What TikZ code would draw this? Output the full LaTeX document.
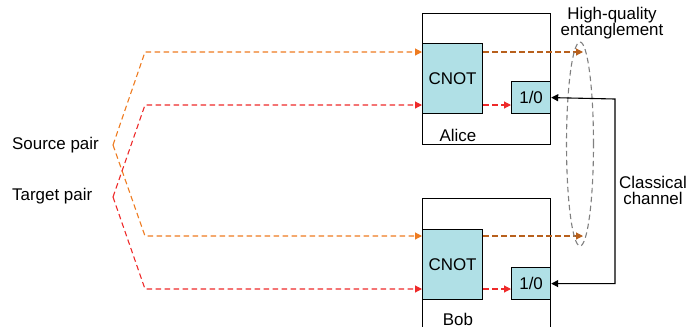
\documentclass[tikz,border=0pt]{standalone}
\usepackage{fontspec}
\setmainfont{Liberation Sans}
\usepackage{xcolor}
\usepackage{tikz}
\usetikzlibrary{arrows.meta,calc}

\definecolor{srcorange}{HTML}{EE7B20}
\definecolor{tgtred}{HTML}{EE2A2A}
\definecolor{outbrown}{HTML}{B8601C}
\definecolor{gatefill}{HTML}{B0E0E6}

\begin{document}
\begin{tikzpicture}[x=1bp,y=-1bp,
    every node/.style={font=\fontsize{17}{16}\selectfont},
    party/.style={draw,line width=1.2bp,anchor=north west,minimum width=128bp},
    gate/.style={draw,line width=1.2bp,fill=gatefill,anchor=north west,inner sep=0pt},
    pair/.style={dashed,dash pattern=on 5.5bp off 3.5bp,line width=1.1bp},
    tip/.style={-{Triangle[length=7bp,width=7bp]}}]
      \useasboundingbox (0,0) rectangle (699,326);
      % labs
      \node [party,minimum height=131bp] (alice) at (422,13) {};
      \node [party,minimum height=140bp] (bob) at (422,198) {};
      \node [gate,minimum width=60bp,minimum height=70bp] (aCnot) at (422,43) {CNOT};
      \node [gate,minimum width=39bp,minimum height=32bp] (aMeas) at (511,81) {1/0};
      \node [gate,minimum width=60bp,minimum height=70bp] (bCnot) at (422,229) {CNOT};
      \node [gate,minimum width=39bp,minimum height=32bp] (bMeas) at (511,267) {1/0};
      \node (aName) at (458,135) {Alice};
      \node (bName) at (458,319) {Bob};
      % pairs
      \node [anchor=west,inner sep=0pt] (srcLabel) at (12,145) {Source pair};
      \node [anchor=west,inner sep=0pt] (tgtLabel) at (12,196) {Target pair};
      \coordinate (srcPt) at (113,145);
      \coordinate (tgtPt) at (113,197);
      \coordinate (aUp) at (145,52);
      \coordinate (aLow) at (145,105);
      \coordinate (bUp) at (145,236);
      \coordinate (bLow) at (145,289);
      \draw [pair,srcorange,tip] (srcPt) -- (aUp) -- (aUp -| aCnot.west);
      \draw [pair,srcorange,tip] (srcPt) -- (bUp) -- (bUp -| bCnot.west);
      \draw [pair,tgtred,tip] (tgtPt) -- (aLow) -- (aLow -| aCnot.west);
      \draw [pair,tgtred,tip] (tgtPt) -- (bLow) -- (bLow -| bCnot.west);
      \draw [pair,tgtred,tip] (aLow -| aCnot.east) -- (aLow -| aMeas.west);
      \draw [pair,tgtred,tip] (bLow -| bCnot.east) -- (bLow -| bMeas.west);
      % entanglement
      \coordinate (aEnt) at (583,52);
      \coordinate (bEnt) at (583,236);
      \draw [pair,outbrown,tip] (aUp -| aCnot.east) -- (aEnt);
      \draw [pair,outbrown,tip] (bUp -| bCnot.east) -- (bEnt);
      \draw [dashed,dash pattern=on 5.5bp off 3.5bp,line width=1.1bp,gray] (580,144) ellipse [x radius=13.5bp,y radius=102bp];
      \node [align=center] (entLabel) at (612,23) {High-quality\\entanglement};
      % classical
      \coordinate (chan) at (615,99);
      \draw [line width=1.1bp,{Triangle[length=7bp,width=7bp]}-{Triangle[length=7bp,width=7bp]}] (aMeas.east) -- (chan) |- (bMeas.east);
      \node [align=center] (chanLabel) at (653,190) {Classical\\channel};
    \end{tikzpicture}
\end{document}
